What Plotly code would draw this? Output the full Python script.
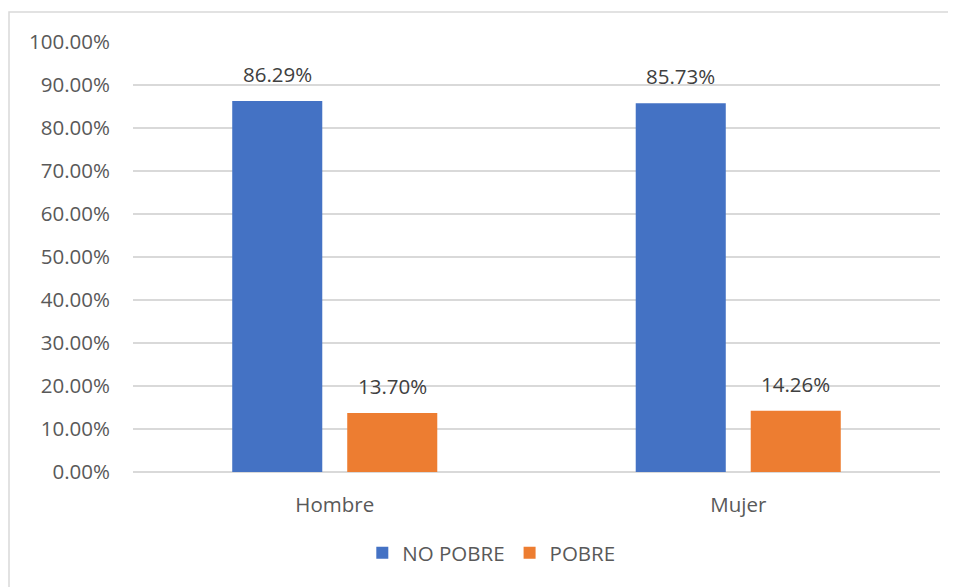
import plotly.graph_objects as go

categories = ["Hombre", "Mujer"]
no_pobre = [0.8629, 0.8573]
pobre = [0.1370, 0.1426]
series_names = ["NO POBRE", "POBRE"]
colors = ["#4472C4", "#ED7D31"]

W, H = 956, 587
OFF = 8  # browser default body margin
L, R, T, B = 133 - OFF, 16 + OFF, 42 - OFF, 115 + OFF
pw, ph = W - L - R, H - T - B

fig = go.Figure()
for name, vals, col in zip(series_names, [no_pobre, pobre], colors):
    fig.add_trace(go.Bar(x=categories, y=vals, name=name, marker_color=col,
                         marker_line_width=0))

font = "Open Sans"
txtcol = "#595959"
fs = 20.5

# data labels
offsets = [-57.5, 57.5]
for vals, off in zip([no_pobre, pobre], offsets):
    for c, v in zip(categories, vals):
        fig.add_annotation(x=c, y=v, text=f"{v*100:.2f}%", showarrow=False,
                           xshift=off, yshift=11, yanchor="bottom",
                           font=dict(family=font, size=fs, color="#404040"))

# chart border
bx0 = (9 - OFF - L) / pw
by1 = (H - B - (12 - OFF)) / ph
fig.add_shape(type="rect", xref="paper", yref="paper", x0=bx0, x1=1.2,
              y0=-0.5, y1=by1, line=dict(color="#D9D9D9", width=1.5),
              fillcolor="rgba(0,0,0,0)", layer="below")

fig.update_layout(
    width=W, height=H,
    margin=dict(l=L, r=R, t=T, b=B),
    paper_bgcolor="white", plot_bgcolor="white",
    barmode="group", bargap=0.43, bargroupgap=0.217,
    font=dict(family=font, size=fs, color=txtcol),
    showlegend=True,
    legend=dict(orientation="h", x=0.444, xanchor="center",
                y=(H - B - (553 - OFF)) / ph,
                yanchor="middle", font=dict(size=fs, color=txtcol),
                itemwidth=30, tracegroupgap=0),
)
fig.update_yaxes(range=[0, 1], dtick=0.1, tickformat=".2%", showgrid=True,
                 gridcolor="#D9D9D9", gridwidth=1.5, zeroline=True,
                 zerolinecolor="#D9D9D9", zerolinewidth=1.5, showline=False,
                 ticks="", ticklabelstandoff=22, fixedrange=True)
fig.update_xaxes(showgrid=False, showline=False, ticks="",
                 ticklabelstandoff=18, fixedrange=True)

fig.write_html("out.html")
